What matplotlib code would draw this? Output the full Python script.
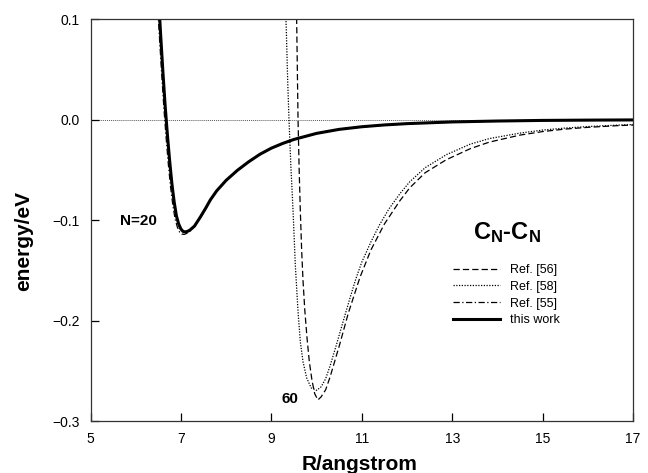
import matplotlib
matplotlib.use("Agg")
import matplotlib.pyplot as plt
from matplotlib.ticker import FuncFormatter

plt.rcParams['font.family'] = ['Liberation Sans', 'DejaVu Sans']
plt.rcParams['mathtext.fontset'] = 'custom'
plt.rcParams['mathtext.rm'] = 'Liberation Sans'
plt.rcParams['mathtext.bf'] = 'Liberation Sans:bold'

# N=20, this work (solid)
r_work = [6.50, 6.55, 6.60, 6.65, 6.70, 6.75, 6.80, 6.85, 6.90, 6.95, 7.00,
          7.05, 7.10, 7.15, 7.20, 7.30, 7.43, 7.55, 7.65, 7.79, 7.90, 8.00,
          8.25, 8.50, 8.75, 9.00, 9.25, 9.50, 10.0, 10.5, 11.0, 11.5, 12.0,
          13.0, 14.0, 15.0, 16.0, 17.0]
e_work = [0.125, 0.085, 0.048, 0.014, -0.015, -0.041, -0.064, -0.082, -0.096,
          -0.104, -0.109, -0.1115, -0.1118, -0.1112, -0.1100, -0.1060, -0.097,
          -0.088, -0.080, -0.071, -0.0655, -0.0605, -0.0505, -0.042, -0.0345,
          -0.0285, -0.0238, -0.0198, -0.0138, -0.0098, -0.0072, -0.0054,
          -0.0041, -0.0024, -0.0015, -0.0009, -0.0006, -0.0004]

# N=20, Ref. [55] (dash-dot)
r_55 = [6.47, 6.52, 6.57, 6.62, 6.67, 6.72, 6.77, 6.82, 6.87, 6.92, 6.97,
        7.02, 7.07, 7.12, 7.20, 7.30, 7.43, 7.55, 7.65, 7.79, 8.00, 8.25,
        8.50, 8.75, 9.00, 9.25, 9.50, 10.0, 10.5, 11.0, 11.5, 12.0, 13.0,
        14.0, 15.0, 16.0, 17.0]
e_55 = [0.125, 0.085, 0.048, 0.013, -0.017, -0.044, -0.067, -0.085, -0.099,
        -0.107, -0.112, -0.1140, -0.1143, -0.1135, -0.1110, -0.1065, -0.0975,
        -0.0885, -0.0805, -0.0712, -0.0607, -0.0507, -0.0422, -0.0347,
        -0.0287, -0.0240, -0.0200, -0.0140, -0.0100, -0.0074, -0.0056,
        -0.0043, -0.0026, -0.0016, -0.0010, -0.0007, -0.0005]

# N=60, Ref. [58] (dotted)
r_58 = [9.30, 9.33, 9.36, 9.39, 9.43, 9.48, 9.53, 9.59, 9.64, 9.70, 9.78,
        9.88, 10.00, 10.10, 10.20, 10.30, 10.44, 10.60, 10.75, 10.88, 11.00,
        11.20, 11.39, 11.60, 11.84, 12.06, 12.40, 12.87, 13.40, 13.82, 14.50,
        15.00, 15.50, 16.00, 16.70, 17.00]
e_58 = [0.13, 0.09, 0.04, 0.0, -0.045, -0.091, -0.145, -0.191, -0.221,
        -0.241, -0.257, -0.267, -0.2695, -0.266, -0.258, -0.245, -0.224,
        -0.199, -0.176, -0.157, -0.142, -0.122, -0.105, -0.089, -0.074,
        -0.062, -0.048, -0.035, -0.0245, -0.019, -0.0135, -0.0105, -0.0085,
        -0.0070, -0.0055, -0.0050]

# N=60, Ref. [56] (dashed)
r_56 = [9.55, 9.57, 9.59, 9.615, 9.64, 9.67, 9.70, 9.74, 9.79, 9.84, 9.90,
        9.96, 10.03, 10.10, 10.20, 10.30, 10.51, 10.70, 10.96, 11.20, 11.50,
        11.84, 12.06, 12.40, 12.87, 13.40, 13.82, 14.50, 15.00, 15.50, 16.00,
        16.70, 17.00]
e_56 = [0.13, 0.065, 0.0, -0.05, -0.09, -0.13, -0.16, -0.19, -0.218, -0.241,
        -0.260, -0.273, -0.279, -0.276, -0.269, -0.256, -0.224, -0.193,
        -0.157, -0.130, -0.104, -0.081, -0.068, -0.053, -0.040, -0.029,
        -0.0225, -0.0155, -0.0120, -0.0095, -0.0078, -0.0060, -0.0055]

x_ticks = [5, 7, 9, 11, 13, 15, 17]
y_ticks = [-0.3, -0.2, -0.1, 0.0, 0.1]

fig = plt.figure(figsize=(6.48, 4.73), dpi=100)
ax = fig.add_axes((0.1397, 0.1099, 0.8372, 0.8499))

ax.axhline(0, color='0.35', lw=0.7, ls=(0, (1, 1)), zorder=1)

ax.plot(r_56, e_56, color='k', lw=0.9, ls=(0, (5, 2.5)), label='Ref. [56]')
ax.plot(r_58, e_58, color='k', lw=0.9, ls=(0, (1, 1.2)), label='Ref. [58]')
ax.plot(r_55, e_55, color='k', lw=0.9, ls=(0, (5, 2, 1, 2)), label='Ref. [55]')
ax.plot(r_work, e_work, color='k', lw=2.2, label='this work')

ax.set_xlim(5, 17)
ax.set_ylim(-0.3, 0.1)
ax.set_xticks(x_ticks)
ax.set_yticks(y_ticks)
ax.yaxis.set_major_formatter(
    FuncFormatter(lambda v, pos: f'{v:.1f}'.replace('-', '\u2212')))
ax.tick_params(direction='in', length=5.5, width=0.9, labelsize=10, pad=8,
               colors='k')
for s in ax.spines.values():
    s.set_linewidth(0.9)
    s.set_color('0.2')

ax.text(6.06, -0.101, 'N=20', fontsize=11, fontweight='bold',
        ha='center', va='center')
ax.text(9.41, -0.278, '60', fontsize=11, fontweight='bold',
        ha='center', va='center')

fig.text(507 / 648, 1 - 233 / 473, r'$\mathbf{C_N}$-$\mathbf{C_N}$',
         fontsize=17, fontweight='bold', ha='center', va='center')

ax.legend(loc='upper left', bbox_to_anchor=(453 / 648, 1 - 264 / 473),
          bbox_transform=fig.transFigure, frameon=False, fontsize=9,
          handlelength=3.75, handletextpad=0.8, labelspacing=0.38,
          borderpad=0, borderaxespad=0)

fig.text(24 / 648, 1 - 241 / 473, 'energy/eV', fontsize=15,
         fontweight='bold', rotation=90, ha='center', va='center')
fig.text(360 / 648, 1 - 464 / 473, 'R/angstrom', fontsize=15,
         fontweight='bold', ha='center', va='center')

fig.savefig('out.png', dpi=100)
